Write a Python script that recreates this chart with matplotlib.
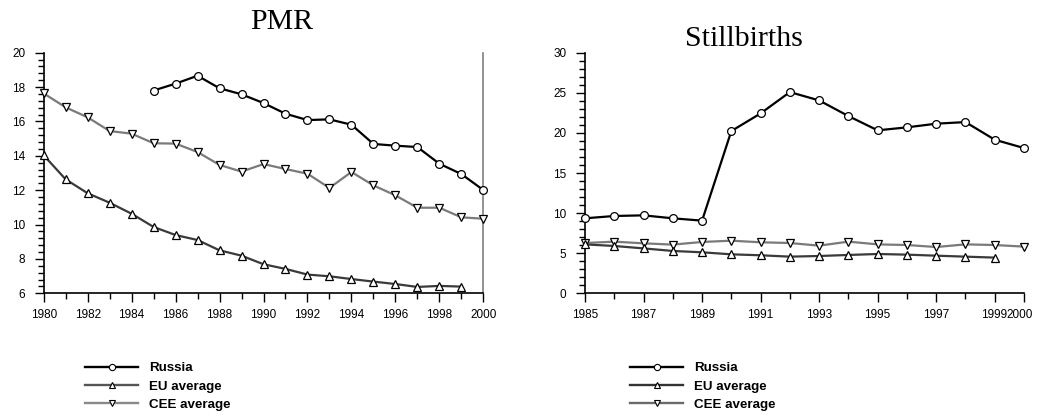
import matplotlib
matplotlib.use("Agg")
import matplotlib.pyplot as plt
from matplotlib.ticker import MultipleLocator
from matplotlib.lines import Line2D
from matplotlib.transforms import ScaledTranslation

# ---- data ----
pmr_years = list(range(1980, 2001))
pmr_russia_years = list(range(1985, 2001))
pmr_russia = [17.8, 18.2, 18.66, 17.93, 17.58, 17.07, 16.45, 16.08, 16.12, 15.81,
              14.69, 14.59, 14.51, 13.54, 12.94, 12.01]
pmr_eu_years = list(range(1980, 2000))
pmr_eu = [14.03, 12.63, 11.82, 11.27, 10.63, 9.86, 9.39, 9.10, 8.50, 8.19,
          7.69, 7.42, 7.09, 6.99, 6.83, 6.68, 6.54, 6.37, 6.43, 6.39]
pmr_cee = [17.63, 16.82, 16.24, 15.44, 15.29, 14.73, 14.71, 14.22, 13.47, 13.08,
           13.52, 13.23, 12.96, 12.13, 13.06, 12.28, 11.70, 10.98, 10.98, 10.42, 10.34]

sb_years = list(range(1985, 2001))
sb_russia = [9.35, 9.64, 9.72, 9.35, 9.06, 20.23, 22.43, 25.09, 24.05, 22.10,
             20.32, 20.69, 21.15, 21.35, 19.15, 18.11]
sb_eu_years = list(range(1985, 2000))
sb_eu = [6.1, 5.9, 5.6, 5.28, 5.11, 4.86, 4.74, 4.57, 4.65, 4.78, 4.9, 4.82, 4.69, 4.57, 4.45]
sb_cee = [6.27, 6.44, 6.23, 6.07, 6.40, 6.56, 6.36, 6.27, 5.94, 6.44, 6.1, 6.02, 5.77, 6.1, 6.02, 5.82]

series_labels = ["Russia", "EU average", "CEE average"]
pmr_xticks = list(range(1980, 2001, 2))
sb_xticks = [1985, 1987, 1989, 1991, 1993, 1995, 1997, 1999, 2000]
sb_xticklabels = ["1985", "1987", "1989", "1991", "1993", "1995", "1997", "1999", "2000"]

# ---- styling ----
plt.rcParams['font.family'] = ['Liberation Sans', 'DejaVu Sans']
W, H = 1037, 419
fig = plt.figure(figsize=(W / 100, H / 100), dpi=100)

c_ru, c_eu, c_cee = "#000000", "#3a3a3a", "#7a7a7a"
ms = 5.6
lw = 1.6


def px_axes(x0, y0, x1, y1):
    return fig.add_axes([x0 / W, 1 - y1 / H, (x1 - x0) / W, (y1 - y0) / H])


def style_axes(ax):
    ax.spines['top'].set_visible(False)
    ax.spines['left'].set_linewidth(1.2)
    ax.spines['bottom'].set_linewidth(1.2)
    ax.tick_params(axis='both', which='major', direction='out', length=6.8, width=1.0,
                   labelsize=8.5, colors='black')
    ax.tick_params(axis='x', which='major', pad=4.2)
    ax.tick_params(axis='y', which='major', pad=6.5)
    ax.tick_params(axis='both', which='minor', direction='out', length=4.3, width=1.0)
    ax.patch.set_alpha(0)


def plot_series(ax, x, y, color, marker, label, z):
    ax.plot(x, y, color=color, lw=lw, marker=marker, ms=ms, mfc='white',
            mec='black', mew=0.9, label=label, zorder=z, clip_on=False)


# Left: PMR
ax1 = px_axes(43.7, 52.7, 483.3, 293.3)
style_axes(ax1)
ax1.spines['right'].set_color('#808080')
ax1.spines['right'].set_linewidth(1.2)
ax1.tick_params(axis='y', which='both', right=False)
plot_series(ax1, pmr_years, pmr_cee, c_cee, 'v', series_labels[2], 3)
plot_series(ax1, pmr_eu_years, pmr_eu, c_eu, '^', series_labels[1], 4)
plot_series(ax1, pmr_russia_years, pmr_russia, c_ru, 'o', series_labels[0], 5)
ax1.set_xlim(1980, 2000)
ax1.set_ylim(6, 20)
ax1.set_xticks(pmr_xticks)
ax1.xaxis.set_minor_locator(MultipleLocator(1))
ax1.yaxis.set_major_locator(MultipleLocator(2))
ax1.yaxis.set_minor_locator(MultipleLocator(0.4))

# Right: Stillbirths
ax2 = px_axes(585, 52.7, 1024, 293.3)
style_axes(ax2)
ax2.spines['right'].set_visible(False)
plot_series(ax2, sb_years, sb_cee, c_cee, 'v', series_labels[2], 3)
plot_series(ax2, sb_eu_years, sb_eu, c_eu, '^', series_labels[1], 4)
plot_series(ax2, sb_years, sb_russia, c_ru, 'o', series_labels[0], 5)
ax2.set_xlim(1985, 2000)
ax2.set_ylim(0, 30)
ax2.set_xticks(sb_xticks)
ax2.set_xticklabels(sb_xticklabels)
ax2.xaxis.set_minor_locator(MultipleLocator(1))
ax2.yaxis.set_major_locator(MultipleLocator(5))
ax2.yaxis.set_minor_locator(MultipleLocator(1))
for lab in ax2.get_xticklabels():
    if lab.get_text() == "2000":
        lab.set_transform(lab.get_transform() + ScaledTranslation(-3 / 72, 0, fig.dpi_scale_trans))
    if lab.get_text() == "1999":
        lab.set_transform(lab.get_transform() + ScaledTranslation(-0.5 / 72, 0, fig.dpi_scale_trans))

# Titles
fig.text(282 / W, 1 - 29.3 / H, "PMR", family='Liberation Serif', fontsize=21.5,
         ha='center', va='baseline')
fig.text(744 / W, 1 - 46.5 / H, "Stillbirths", family='Liberation Serif', fontsize=21.5,
         ha='center', va='baseline')


# Legends
def make_handles(cols):
    kw = dict(lw=1.7, ms=4.5, mfc='white', mec='black', mew=0.8)
    return [Line2D([], [], color=cols[0], marker='o', **kw),
            Line2D([], [], color=cols[1], marker='^', **kw),
            Line2D([], [], color=cols[2], marker='v', **kw)]


legend_font = {'family': 'Liberation Sans', 'weight': 'bold', 'size': 9.6}
for lx, cols in ((85 / W, (c_ru, '#555555', '#8a8a8a')), (630 / W, (c_ru, '#333333', '#6a6a6a'))):
    fig.legend(handles=make_handles(cols), labels=series_labels, loc='upper left',
               bbox_to_anchor=(lx, 1 - 362 / H), frameon=False, prop=legend_font,
               handlelength=4.0, handletextpad=0.8, labelspacing=0.45,
               borderaxespad=0, borderpad=0)

fig.savefig("out.png", dpi=100)
